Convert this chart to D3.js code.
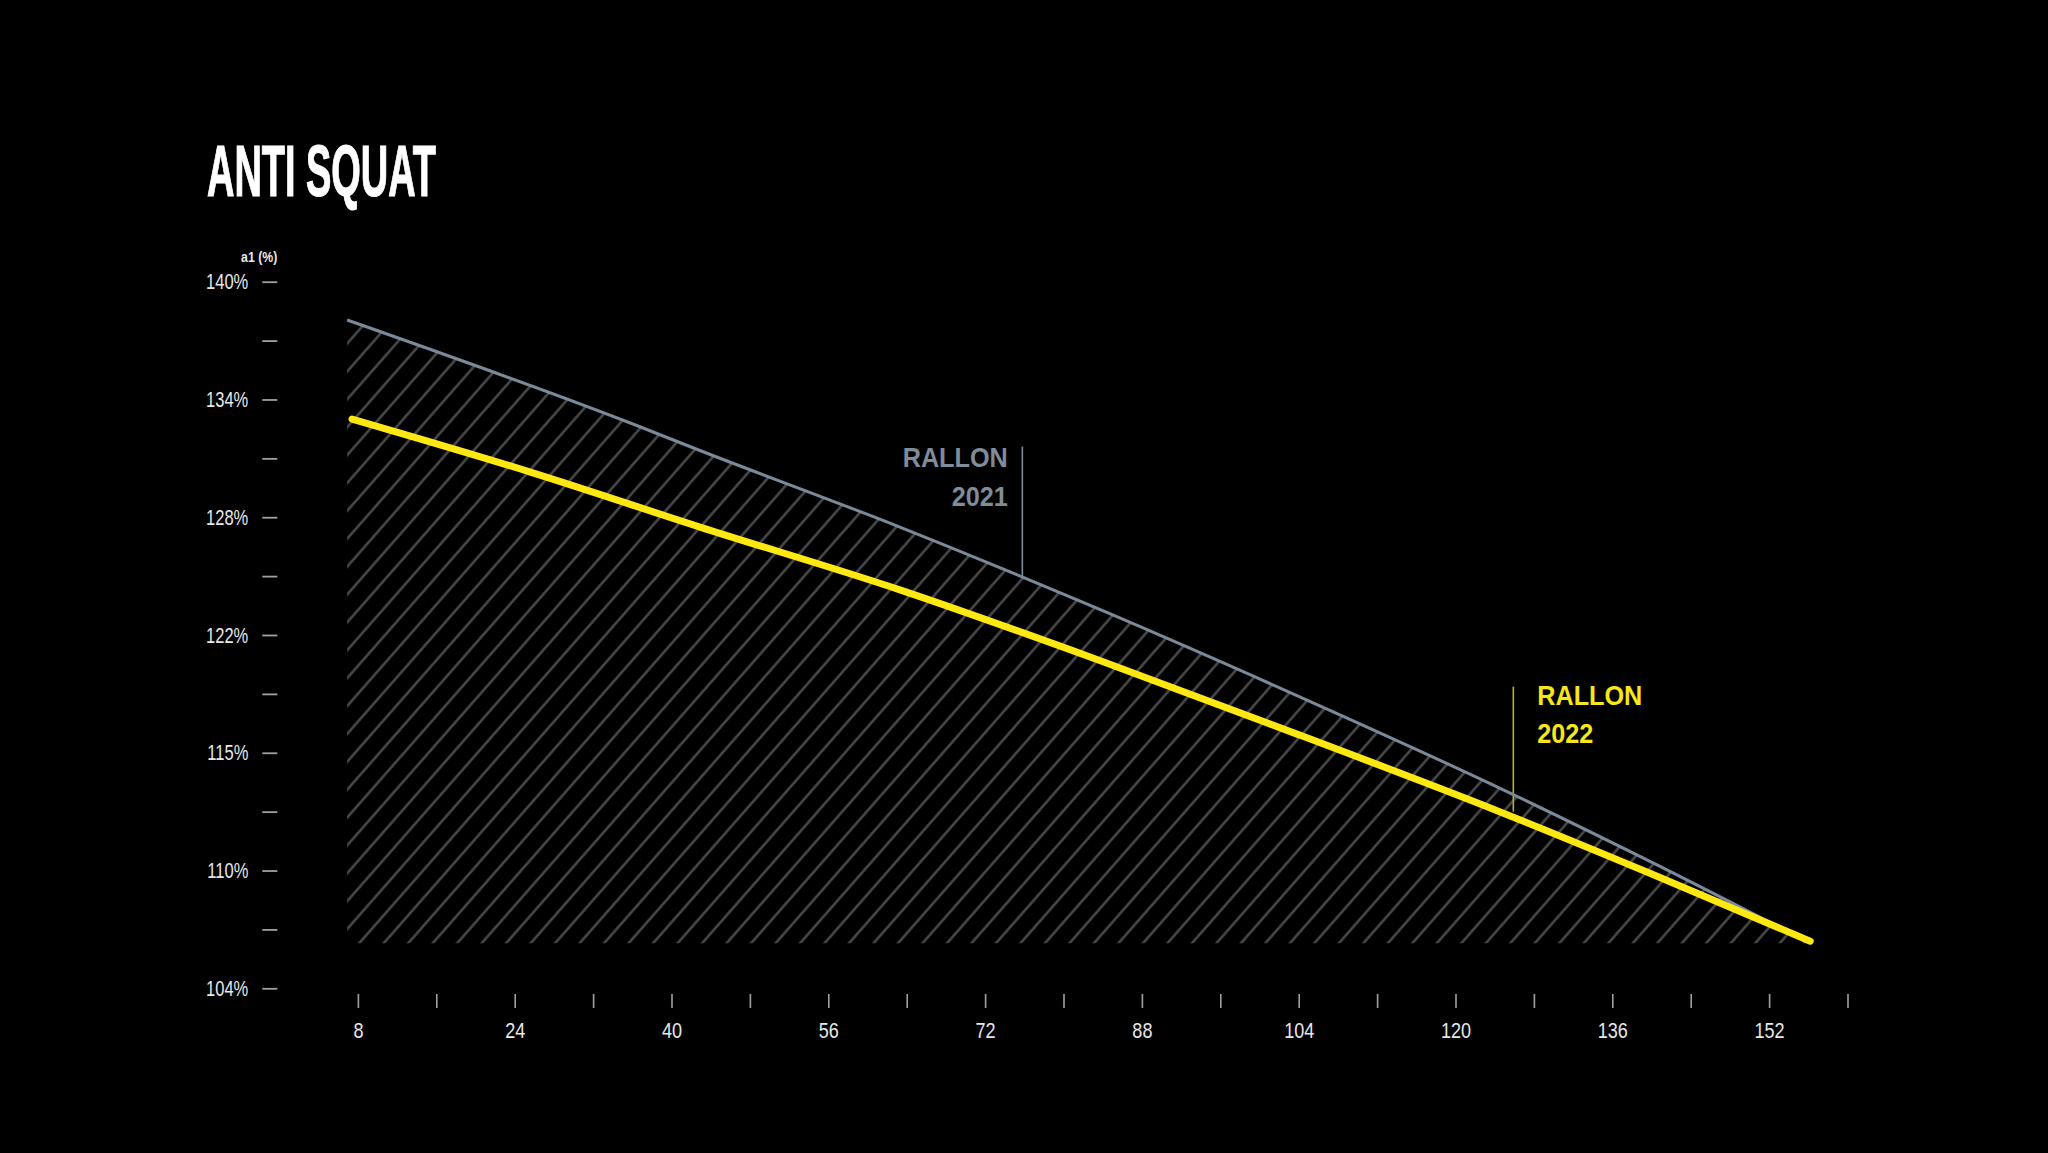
<!DOCTYPE html>
<html>
<head>
<meta charset="utf-8">
<script src="https://cdn.jsdelivr.net/npm/d3@7"></script>
<style>
  html, body { margin: 0; padding: 0; background: #000; }
  svg { display: block; }
</style>
</head>
<body>
<svg id="chart" width="2048" height="1153"></svg>
<script>
// ---- data ----
const rallon2021X = [6.9, 35.8, 42.9, 63.3, 83.7, 104.1, 124.5, 139.9, 155.8];
const rallon2021Y = [138.05, 132.8, 131.4, 127.5, 123.3, 118.85, 114.2, 110.45, 106.4];
const rallon2022X = [7.4, 25.6, 42.9, 63.3, 83.7, 104.1, 124.5, 139.9, 156.2];
const rallon2022Y = [133.0, 130.3, 127.5, 124.3, 120.7, 116.9, 113.0, 109.85, 106.4];

const xTickValues = [8, 16, 24, 32, 40, 48, 56, 64, 72, 80, 88, 96, 104, 112, 120, 128, 136, 144, 152, 160];
const xTickLabels = ["8", "", "24", "", "40", "", "56", "", "72", "", "88", "", "104", "", "120", "", "136", "", "152", ""];
const yTickValues = [104, 107, 110, 113, 116, 119, 122, 125, 128, 131, 134, 137, 140];
const yTickLabels = ["104%", "", "110%", "", "115%", "", "122%", "", "128%", "", "134%", "", "140%"];

const title = "ANTI SQUAT";
const yAxisTitle = "a1 (%)";
const label2021 = ["RALLON", "2021"];
const label2022 = ["RALLON", "2022"];
// annotation anchors (data units)
const leader2021 = { x: 75.8, yTop: 131.6, yBottom: 124.9 };
const leader2022 = { x: 125.9, yTop: 119.37, yBottom: 113.0 };

// ---- setup ----
const svg = d3.select("#chart");
const W = 2048, H = 1153;
svg.append("rect").attr("width", W).attr("height", H).attr("fill", "#000");

const x = d3.scaleLinear().domain([8, 160]).range([357.9, 1847.5]);
const y = d3.scaleLinear().domain([104, 140]).range([988.3, 281.7]);

const sans = "'Liberation Sans', Arial, sans-serif";

// condense text horizontally (emulates a narrow face)
function condense(sel, k) {
  sel.each(function () {
    const len = this.getComputedTextLength();
    if (len > 0) {
      d3.select(this)
        .attr("textLength", len * k)
        .attr("lengthAdjust", "spacingAndGlyphs");
    }
  });
}

// ---- title ----
svg.append("text")
  .attr("x", 207).attr("y", 196)
  .attr("fill", "#ffffff")
  .attr("stroke", "#ffffff")
  .attr("stroke-width", 1.2)
  .attr("font-family", sans)
  .attr("font-weight", "bold")
  .attr("font-size", 72)
  .attr("textLength", 229)
  .attr("lengthAdjust", "spacingAndGlyphs")
  .text(title);

// ---- hatch pattern ----
const defs = svg.append("defs");
const ps = 18.4;
const pat = defs.append("pattern")
  .attr("id", "hatch")
  .attr("patternUnits", "userSpaceOnUse")
  .attr("width", ps).attr("height", ps)
  .attr("patternTransform", "rotate(41.3)");
pat.append("line")
  .attr("x1", ps / 2).attr("y1", -1)
  .attr("x2", ps / 2).attr("y2", ps + 1)
  .attr("stroke", "#4d4d4d")
  .attr("stroke-width", 2.4);

const g2021 = rallon2021X.map((d, i) => [d, rallon2021Y[i]]);
const g2022 = rallon2022X.map((d, i) => [d, rallon2022Y[i]]);
const base = rallon2021Y[rallon2021Y.length - 1] - 0.1;

const area = d3.area()
  .x(d => x(d[0]))
  .y0(y(base))
  .y1(d => y(d[1]))
  .curve(d3.curveMonotoneX);

svg.append("path")
  .datum(g2021)
  .attr("d", area)
  .attr("fill", "url(#hatch)");

// ---- axes ----
const yAxis = d3.axisLeft(y)
  .tickValues(yTickValues)
  .tickFormat((d, i) => yTickLabels[i])
  .tickSize(15)
  .tickPadding(14);
const gy = svg.append("g").attr("transform", "translate(277.3,0)").call(yAxis);
gy.select(".domain").remove();
gy.selectAll(".tick line").attr("stroke", "#a0a0a0").attr("stroke-width", 1.8);
gy.selectAll(".tick text")
  .attr("fill", "#e8e8e8")
  .attr("font-family", sans)
  .attr("font-size", 22)
  .call(condense, 0.75);

const yt = svg.append("text")
  .attr("x", 277.3).attr("y", 262)
  .attr("text-anchor", "end")
  .attr("fill", "#e8e8e8")
  .attr("font-family", sans)
  .attr("font-weight", "bold")
  .attr("font-size", 15)
  .text(yAxisTitle);
condense(yt, 0.82);

const xAxis = d3.axisBottom(x)
  .tickValues(xTickValues)
  .tickFormat((d, i) => xTickLabels[i])
  .tickSize(14)
  .tickPadding(14);
const gx = svg.append("g").attr("transform", "translate(0,994)").call(xAxis);
gx.select(".domain").remove();
gx.selectAll(".tick line").attr("stroke", "#a0a0a0").attr("stroke-width", 1.6);
gx.selectAll(".tick text")
  .attr("fill", "#e8e8e8")
  .attr("font-family", sans)
  .attr("font-size", 22)
  .call(condense, 0.82);

// ---- leaders ----
svg.append("line")
  .attr("x1", x(leader2021.x)).attr("x2", x(leader2021.x))
  .attr("y1", y(leader2021.yTop)).attr("y2", y(leader2021.yBottom))
  .attr("stroke", "#7f8c99").attr("stroke-width", 1.6);
svg.append("line")
  .attr("x1", x(leader2022.x)).attr("x2", x(leader2022.x))
  .attr("y1", y(leader2022.yTop)).attr("y2", y(leader2022.yBottom))
  .attr("stroke", "#bfae2a").attr("stroke-width", 1.6);

// ---- lines ----
const line = d3.line()
  .x(d => x(d[0]))
  .y(d => y(d[1]))
  .curve(d3.curveMonotoneX);

svg.append("path")
  .datum(g2021)
  .attr("d", line)
  .attr("fill", "none")
  .attr("stroke", "#7b8a99")
  .attr("stroke-width", 3);

svg.append("path")
  .datum(g2022)
  .attr("d", line)
  .attr("fill", "none")
  .attr("stroke", "#fde812")
  .attr("stroke-width", 7)
  .attr("stroke-linecap", "round");

// ---- labels ----
const lab1 = svg.append("text")
  .attr("text-anchor", "end")
  .attr("fill", "#7f8c99")
  .attr("font-family", sans)
  .attr("font-weight", "bold")
  .attr("font-size", 28);
lab1.append("tspan").attr("x", 1007.7).attr("y", 467.3).text(label2021[0]);
lab1.append("tspan").attr("x", 1007.7).attr("y", 506).text(label2021[1]);

const lab2 = svg.append("text")
  .attr("text-anchor", "start")
  .attr("fill", "#f7e61a")
  .attr("font-family", sans)
  .attr("font-weight", "bold")
  .attr("font-size", 28);
lab2.append("tspan").attr("x", 1537.3).attr("y", 705).text(label2022[0]);
lab2.append("tspan").attr("x", 1537.3).attr("y", 743.3).text(label2022[1]);

// slightly condensed annotation labels
[lab1, lab2].forEach(t => t.selectAll("tspan").call(condense, 0.9));
</script>
</body>
</html>
